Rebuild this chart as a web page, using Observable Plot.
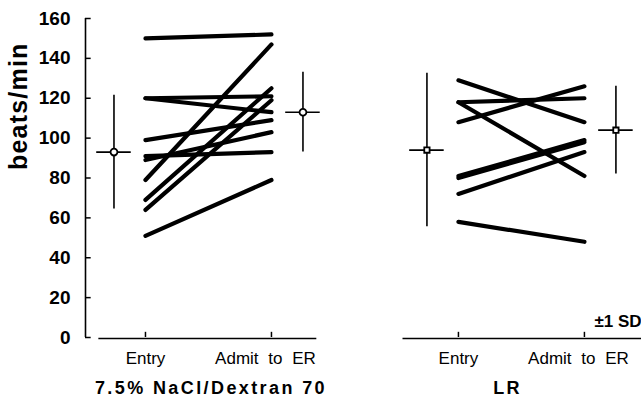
<!DOCTYPE html>
<html><head><meta charset="utf-8">
<script src="https://cdn.jsdelivr.net/npm/d3@7"></script>
<script src="https://cdn.jsdelivr.net/npm/@observablehq/plot@0.6"></script>
<style>
body{margin:0;background:#fff}
svg{display:block}
</style>
</head><body><div id="chart"></div>
<script>
// ---- data ----
const groups = ["7.5% NaCl/Dextran 70", "LR"];
const phases = ["Entry", "Admit to ER"];
const yTicks = [0, 20, 40, 60, 80, 100, 120, 140, 160];
const hsdEntry = [150, 79, 120, 120, 99, 91, 89, 69, 64, 51];
const hsdAdmit = [152, 147, 121, 113, 109, 93, 103, 125, 119, 79];
const lrEntry = [129, 118, 118, 108, 81, 80, 72, 58];
const lrAdmit = [108, 120, 81, 126, 99, 98, 93, 48];
const hsdMean = [93, 113];
const hsdSD = [28.5, 20];
const lrMean = [94, 104];
const lrSD = [38.5, 22];
const sdLabel = "±1 SD";
const yLabel = "beats/min";

// ---- layout (not data) ----
const panelOffset = [0, 2.484];
const markerShift = [-0.25, 1.25];
const baseExtent = [[-0.37, 1.36], [-0.44, 1.453]];
const titleShift = [0.52, 0.39];
const xLeft = -0.476;

const series = [
  {entry: hsdEntry, admit: hsdAdmit, mean: hsdMean, sd: hsdSD, marker: "circle"},
  {entry: lrEntry, admit: lrAdmit, mean: lrMean, sd: lrSD, marker: "square"}
];

const lineRows = [];
const meanRows = [];
series.forEach((s, g) => {
  s.entry.forEach((v, i) => {
    lineRows.push({id: g + "-" + i, x: panelOffset[g] + 0, value: v});
    lineRows.push({id: g + "-" + i, x: panelOffset[g] + 1, value: s.admit[i]});
  });
  s.mean.forEach((m, p) => {
    meanRows.push({x: panelOffset[g] + markerShift[p], mean: m, lo: m - s.sd[p], hi: m + s.sd[p], marker: s.marker});
  });
});
const tickRows = [];
groups.forEach((g, gi) => phases.forEach((p, pi) => tickRows.push({x: panelOffset[gi] + pi, label: p, pi})));
const baseRows = groups.map((g, gi) => ({x1: panelOffset[gi] + baseExtent[gi][0], x2: panelOffset[gi] + baseExtent[gi][1]}));
const titleRows = groups.map((g, gi) => ({x: panelOffset[gi] + titleShift[gi], label: g}));

const font = "'Liberation Sans', Arial, Helvetica, sans-serif";

const chart = Plot.plot({
  width: 641, height: 404,
  marginTop: 18, marginBottom: 67, marginLeft: 85, marginRight: 0,
  style: {fontFamily: font, background: "#fff", color: "#000"},
  x: {domain: [xLeft, 3.937], axis: null},
  y: {domain: [0, 160]},
  marks: [
    Plot.axisY(yTicks, {tickSize: 0, tickPadding: 15, fontSize: 19, fontWeight: "bold", label: null}),
    Plot.ruleX([xLeft], {y1: 0, y2: 160, strokeWidth: 1.6}),
    Plot.ruleY(yTicks, {y: d => d, x1: xLeft, x2: xLeft + 0.045, strokeWidth: 1.5}),
    Plot.text([yLabel], {frameAnchor: "left", rotate: -90, dx: -67, dy: -8, fontSize: 25, fontWeight: "bold", text: d => d}),
    Plot.ruleY(baseRows, {y: 0, x1: "x1", x2: "x2", dy: 1, strokeWidth: 1.5}),
    Plot.ruleX(tickRows, {x: "x", y1: 0, y2: 2.6, strokeWidth: 1.5}),
    Plot.text(tickRows.filter(d => d.pi === 0), {x: "x", y: 0, text: "label", dy: 21, fontSize: 17}),
    Plot.text(tickRows.filter(d => d.pi === 1), {x: "x", y: 0, text: "label", dy: 21, dx: -6, fontSize: 17}),
    Plot.text(titleRows, {x: "x", y: 0, text: "label", dy: 51, fontSize: 18, fontWeight: "bold"}),
    Plot.text([sdLabel], {x: 3.937, y: 0, text: d => d, textAnchor: "end", dy: -16, fontSize: 17, fontWeight: "bold"}),
    Plot.line(lineRows, {x: "x", y: "value", z: "id", stroke: "#000", strokeWidth: 4.2}),
    Plot.ruleX(meanRows, {x: "x", y1: "lo", y2: "hi", strokeWidth: 1.6}),
    Plot.ruleY(meanRows, {y: "mean", x1: d => d.x - 0.137, x2: d => d.x + 0.137, strokeWidth: 1.6}),
    Plot.dot(meanRows, {x: "x", y: "mean", symbol: "marker", r: d => d.marker === "circle" ? 6.5 : 5, fill: "#fff", stroke: "#000", strokeWidth: 1.8})
  ]
});
document.getElementById("chart").appendChild(chart);
// letter / word spacing to echo the scanned typesetting
d3.select(chart).selectAll("text").filter(function() { return groups.includes(this.textContent); })
  .attr("letter-spacing", 2.4);
d3.select(chart).selectAll("text").filter(function() { return phases.includes(this.textContent); })
  .attr("word-spacing", 5);
d3.select(chart).selectAll("text").filter(function() { return this.textContent === yLabel; })
  .attr("letter-spacing", 1.2);
</script>
</body></html>
